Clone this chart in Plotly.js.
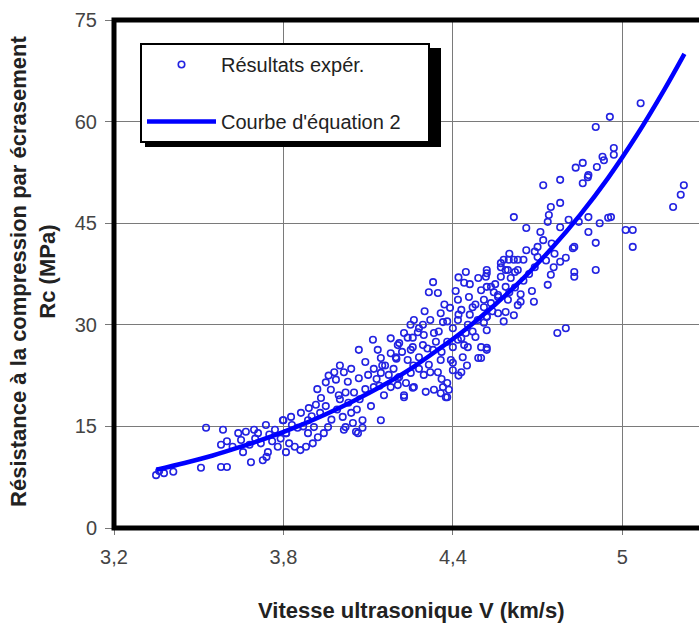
<!DOCTYPE html>
<html>
<head>
<meta charset="utf-8">
<script src="https://cdn.plot.ly/plotly-3.0.1.min.js"></script>
<style>
html,body{margin:0;padding:0;overflow:hidden;background:#fff;width:699px;height:625px;}
#chart{width:737px;height:625px;}
</style>
</head>
<body>
<div id="chart"></div>
<script>
// ---- data ----
var vExp = [
3.349,3.377,3.41,3.36,3.508,3.526,3.579,3.60,3.586,3.579,3.60,
3.64,3.667,3.696,3.738,3.798,3.657,3.685,3.727,3.745,3.78,3.809,3.82,
3.62,3.65,3.70,3.72,3.75,3.76,3.68,3.71,3.77,3.74,3.79,3.81,3.83,3.85,3.84,3.86,
4.067,4.117,4.134,4.09,4.145,4.18,4.21,4.24,4.258,4.276,4.014,3.986,4.028,4.067,4.10,4.12,4.145,4.173,4.205,4.234,4.258,4.227,4.156,4.18,3.968,3.996,3.933,3.915,3.89,3.862,3.827,3.80,3.887,3.908,3.887,3.922,3.904,3.88,3.943,3.958,4.01,4.02,4.014,4.046,4.08,4.08,4.057,4.145,3.809,4.064,
3.87,3.90,3.93,3.95,3.97,3.99,4.00,4.03,4.05,4.04,4.07,4.09,4.11,4.12,4.14,4.16,4.19,4.20,3.92,3.95,3.98,4.00,3.96,4.04,4.06,4.02,
4.33,4.315,4.347,4.446,4.44,4.49,4.52,4.57,4.587,4.50,4.52,4.40,4.386,4.365,4.333,4.38,
4.262,4.294,4.32,4.357,4.365,4.227,4.258,4.297,4.333,4.205,4.251,4.294,4.33,4.198,4.24,4.28,4.315,4.357,4.347,4.297,4.251,4.21,4.205,4.262,4.304,4.227,
4.418,4.43,4.457,4.47,4.50,4.51,4.535,4.56,4.587,4.418,4.453,4.488,4.52,4.446,4.48,4.418,4.40,4.453,4.435,4.393,4.40,4.50,
4.375,4.357,4.38,4.52,4.49,
4.38,4.40,4.42,4.36,4.34,4.31,4.28,4.26,4.37,4.39,4.41,4.43,4.46,4.48,4.47,4.44,4.46,4.42,4.38,4.35,4.30,4.28,4.25,4.22,4.18,4.15,4.13,4.32,4.36,4.42,4.45,4.43,
4.72,4.78,4.835,4.86,4.88,4.86,4.91,4.78,4.747,4.74,4.616,4.66,4.736,4.71,4.72,4.70,4.78,4.81,4.846,4.88,4.92,4.95,4.88,4.906,4.825,4.80,4.78,4.757,4.747,4.736,4.83,4.83,4.906,4.687,4.64,4.63,4.58,4.598,4.616,4.63,4.65,4.57,4.595,4.63,4.57,4.605,4.52,4.517,4.52,4.545,4.56,4.595,4.535,4.51,4.52,4.56,4.587,4.616,4.51,4.52,4.77,4.80,
4.62,4.65,4.67,4.69,4.70,4.66,4.68,4.64,4.60,4.55,4.54,4.58,4.62,4.60,4.69,4.75,4.76,4.73,
5.065,4.956,4.906,4.97,4.97,4.93,4.935,4.878,5.218,5.207,5.18,4.96,5.012,5.037,5.037,4.83
];
var rcExp = [
7.8,8.1,8.3,8.4,8.9,14.8,9.0,9.0,14.5,12.3,12.8,
14.0,14.2,14.5,15.2,15.9,11.2,9.7,10.0,11.2,12.0,11.2,12.5,
12.0,13.0,13.2,12.5,13.8,12.8,12.3,14.0,14.5,10.5,13.2,14.0,15.2,14.8,12.0,11.5,
26.3,27.8,26.3,24.5,25.1,25.8,27.3,28.1,26.7,28.9,23.0,21.9,21.6,22.1,22.6,20.8,22.9,22.6,22.1,21.4,20.7,19.6,19.6,20.8,20.4,19.6,19.2,18.2,17.7,17.0,16.4,15.9,15.9,14.9,14.0,13.4,12.5,12.0,14.0,14.9,16.4,14.9,14.5,15.5,15.9,14.8,14.2,15.9,14.0,14.0,
15.0,16.5,17.0,18.0,16.0,17.5,19.0,18.5,20.0,17.0,19.0,20.5,18.0,23.5,21.0,24.0,23.5,25.0,20.5,21.5,23.0,24.0,22.5,23.5,17.5,20.0,
36.3,34.8,34.7,37.8,36.2,36.9,37.6,39.1,38.1,25.1,26.6,24.4,20.4,20.8,20.4,19.3,
30.7,30.0,30.7,31.7,30.4,28.8,28.1,28.5,28.8,27.0,26.3,27.0,26.3,25.2,24.8,25.2,24.1,24.8,23.0,22.6,22.9,22.3,21.1,20.8,20.1,19.3,
33.7,32.2,34.1,32.6,35.1,33.7,35.6,34.4,35.6,30.7,30.0,30.7,31.2,28.8,28.2,27.8,26.7,26.7,25.2,24.8,23.3,26.7,
19.3,19.9,21.4,26.3,25.1,
27.5,29.5,31.5,26.0,27.5,26.5,23.5,24.0,33.0,32.5,35.0,28.0,31.5,33.0,29.0,27.0,36.0,37.0,30.5,29.0,32.0,29.5,30.0,26.0,28.0,24.0,22.0,23.0,22.0,22.5,24.0,23.0,
50.6,51.4,53.2,53.9,52.1,50.9,53.3,48.0,47.4,46.2,45.9,44.3,45.2,43.7,42.5,41.5,44.4,45.5,45.2,45.9,45.0,45.8,43.7,42.1,41.3,39.9,39.3,38.5,37.4,35.9,37.8,37.1,38.1,33.4,33.4,32.9,39.6,39.6,39.6,39.6,39.6,38.5,38.1,38.1,37.1,36.9,38.1,37.1,35.6,34.8,34.1,33.7,33.2,32.6,31.2,31.7,31.9,31.4,30.3,29.2,28.8,29.5,
35.5,36.5,37.5,38.5,40.0,41.0,35.0,34.5,34.8,36.0,32.0,30.5,37.8,40.5,40.8,42.0,40.5,39.5,
62.7,60.7,59.2,56.1,55.1,54.8,54.3,51.8,50.6,49.2,47.4,45.9,44.0,44.0,41.5,41.5
];
// fitted curve (equation 2)
var vCurve  = [3.35,3.45,3.55,3.65,3.75,3.85,3.95,4.05,4.15,4.25,4.35,4.45,4.55,4.65,4.75,4.85,4.95,5.05,5.15,5.22];
var rcCurve = [8.6,9.6,10.7,12.0,13.4,15.0,16.8,18.8,21.0,23.5,26.4,29.5,33.0,36.9,41.3,46.2,51.7,57.9,64.8,70.0];

var xTickVals = [3.2,3.8,4.4,5.0];
var xTickText = ["3,2","3,8","4,4","5"];
var yTickVals = [0,15,30,45,60,75];
var yTickText = ["0","15","30","45","60","75"];

var nameExp = "Résultats expér.";
var nameCurve = "Courbe d'équation 2";
var xTitle = "Vitesse ultrasonique V (km/s)";
var yTitle = "Résistance à la compression par écrasement<br>Rc (MPa)";

var FONT = "Liberation Sans, Arial, sans-serif";

// plot-area geometry (px) used to place the legend shadow
var PL = 114, PW = 593, PT = 20, PH = 508;
function px2x(p) { return (p - PL) / PW; }
function px2y(p) { return 1 - (p - PT) / PH; }

var data = [
  {
    x: vExp, y: rcExp, type: "scatter", mode: "markers", name: nameExp,
    legendgroup: "a",
    marker: {symbol: "circle-open", size: 6.5, color: "rgb(35,35,225)", line: {width: 1.6, color: "rgb(35,35,225)"}},
    hoverinfo: "x+y"
  },
  {
    x: vCurve, y: rcCurve, type: "scatter", mode: "lines", name: nameCurve + "\u00a0\u00a0\u00a0\u00a0",
    legendgroup: "b",
    line: {color: "rgb(0,0,255)", width: 4.5, shape: "spline"},
    hoverinfo: "x+y"
  }
];

var layout = {
  width: 737, height: 625,
  margin: {l: PL, r: 737 - PL - PW, t: PT, b: 625 - PT - PH},
  paper_bgcolor: "#fff", plot_bgcolor: "#fff",
  font: {family: FONT, size: 20, color: "#333"},
  showlegend: true,
  legend: {
    x: px2x(140), y: px2y(43), xanchor: "left", yanchor: "top",
    bgcolor: "#fff", bordercolor: "#000", borderwidth: 2,
    font: {family: FONT, size: 20, color: "#222"},
    traceorder: "grouped", tracegroupgap: 28, itemwidth: 69
  },
  xaxis: {
    range: [3.2, 5.3], tickmode: "array", tickvals: xTickVals, ticktext: xTickText,
    showgrid: true, gridcolor: "#7a7a7a", gridwidth: 1,
    zeroline: false, showline: false,
    ticks: "outside", ticklen: 6, tickcolor: "#777", tickwidth: 1,
    ticklabelstandoff: 5,
    tickfont: {family: FONT, size: 20, color: "#444"}
  },
  yaxis: {
    range: [0, 75], tickmode: "array", tickvals: yTickVals, ticktext: yTickText,
    showgrid: true, gridcolor: "#7a7a7a", gridwidth: 1,
    zeroline: false, showline: false,
    ticks: "outside", ticklen: 8, tickcolor: "#777", tickwidth: 1,
    ticklabelstandoff: 4,
    tickfont: {family: FONT, size: 20, color: "#444"}
  },
  shapes: [
    // legend drop shadow
    {type: "rect", xref: "paper", yref: "paper",
     x0: px2x(145), x1: px2x(441), y0: px2y(147), y1: px2y(48),
     line: {width: 0}, fillcolor: "#000", layer: "above"},
    // heavy plot-area frame
    {type: "rect", xref: "paper", yref: "paper", x0: 0, x1: 1, y0: 0, y1: 1,
     line: {color: "#000", width: 5}, fillcolor: "rgba(0,0,0,0)", layer: "above"}
  ],
  annotations: [
    {text: xTitle, xref: "paper", yref: "paper", x: 0.5, y: -0.163, xanchor: "center", yanchor: "middle",
     showarrow: false, font: {family: FONT, size: 22, color: "#222", weight: "bold"}},
    {text: yTitle, xref: "paper", yref: "paper", x: px2x(33), y: 0.504, xanchor: "center", yanchor: "middle",
     textangle: -90, showarrow: false, font: {family: FONT, size: 22, color: "#222", weight: "bold"}}
  ]
};

Plotly.newPlot("chart", data, layout, {staticPlot: true, displayModeBar: false});
</script>
</body>
</html>
